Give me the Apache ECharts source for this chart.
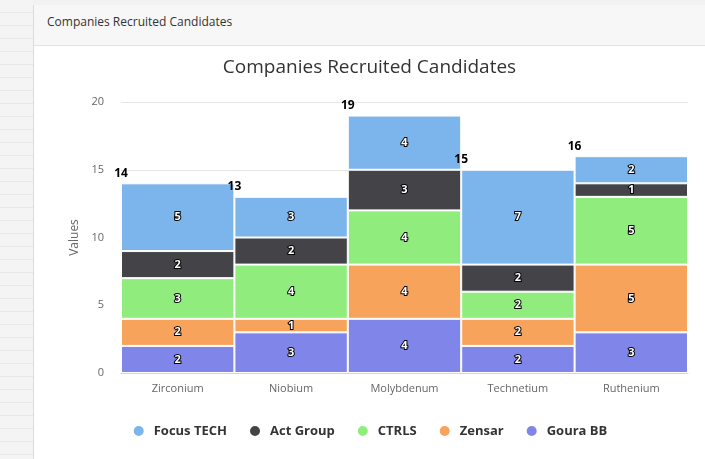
<!DOCTYPE html>
<html>
<head>
<meta charset="utf-8">
<script src="https://cdn.jsdelivr.net/npm/echarts@6/dist/echarts.min.js"></script>
<style>
  html, body { margin: 0; padding: 0; width: 705px; height: 459px; overflow: hidden; background: #f2f2f2; font-family: "Open Sans", sans-serif; }
  .side { position: absolute; left: 0; top: 0; width: 33px; height: 459px;
    background: repeating-linear-gradient(to bottom, #f4f4f4 0px, #f4f4f4 12px, #e8e8e8 12px, #e8e8e8 13px); }
  .panel { position: absolute; left: 33px; top: 5px; width: 672px; height: 454px; background: #fff; border-left: 1px solid #dcdcdc; }
  .panel-head { height: 40px; line-height: 34px; background: #f7f7f7; border-bottom: 1px solid #e2e2e2; padding-left: 13px; font-size: 12px; color: #333; }
  #chart { position: absolute; left: 34px; top: 46px; width: 671px; height: 413px; }
</style>
</head>
<body>
<div class="side"></div>
<div class="panel"><div class="panel-head">Companies Recruited Candidates</div></div>
<div id="chart"></div>
<script>
// categories and values
const categories = ['Zirconium', 'Niobium', 'Molybdenum', 'Technetium', 'Ruthenium']
const focusTech = [5, 3, 4, 7, 2]
const actGroup = [2, 2, 3, 2, 1]
const ctrls = [3, 4, 4, 2, 5]
const zensar = [2, 1, 4, 2, 5]
const gouraBB = [2, 3, 4, 2, 3]
const yTicks = [0, 5, 10, 15, 20]

// bottom to top
const stackSeries = [
  { name: 'Goura BB', data: gouraBB, color: '#8085e9' },
  { name: 'Zensar', data: zensar, color: '#f7a35c' },
  { name: 'CTRLS', data: ctrls, color: '#90ed7d' },
  { name: 'Act Group', data: actGroup, color: '#434348' },
  { name: 'Focus TECH', data: focusTech, color: '#7cb5ec' }
]
const totals = categories.map((c, i) => stackSeries.reduce((s, ser) => s + ser.data[i], 0))

const myChart = echarts.init(document.getElementById('chart'))

const option = {
  animation: false,
  textStyle: { fontFamily: 'Open Sans' },
  title: {
    text: 'Companies Recruited Candidates',
    left: 'center',
    top: 7,
    textStyle: { fontSize: 19, fontWeight: 'normal', color: '#333' }
  },
  legend: {
    data: ['Focus TECH', 'Act Group', 'CTRLS', 'Zensar', 'Goura BB'],
    top: 373,
    left: 'center',
    icon: 'circle',
    itemWidth: 12,
    itemHeight: 12,
    itemGap: 21,
    textStyle: { fontSize: 13, fontWeight: 'bold', color: '#333', padding: [0, 0, 0, 4] }
  },
  grid: { left: 87, right: 17, top: 56, bottom: 86 },
  xAxis: {
    type: 'category',
    data: categories,
    axisLine: { lineStyle: { color: '#ccd6eb' } },
    axisTick: { length: 10, lineStyle: { color: '#ccd6eb' } },
    axisLabel: { color: '#666', fontSize: 11, margin: 10 }
  },
  yAxis: {
    type: 'value',
    min: yTicks[0],
    max: yTicks[yTicks.length - 1],
    interval: 5,
    name: 'Values',
    nameLocation: 'middle',
    nameGap: 32,
    nameTextStyle: { color: '#666', fontSize: 12 },
    axisLine: { show: false },
    axisTick: { show: false },
    axisLabel: { color: '#666', fontSize: 11, margin: 17 },
    splitLine: { lineStyle: { color: '#e6e6e6' } }
  },
  series: stackSeries.map(s => ({
    name: s.name,
    type: 'bar',
    stack: 'total',
    data: s.data,
    barCategoryGap: '0%',
    itemStyle: { color: s.color, borderColor: '#fff', borderWidth: 1 },
    label: {
      show: true,
      position: 'inside',
      color: '#fff',
      fontSize: 11,
      fontWeight: 'bold',
      textBorderColor: '#000',
      textBorderWidth: 2
    }
  })).concat([{
    name: 'total',
    type: 'custom',
    data: totals.map((t, i) => [i, t]),
    encode: { x: 0, y: 1 },
    z: 10,
    renderItem: (params, api) => {
      const p = api.coord([api.value(0), api.value(1)])
      const w = api.size([1, 0])[0]
      return {
        type: 'text',
        x: p[0] - w / 2,
        y: p[1] - 10,
        style: {
          text: String(api.value(1)),
          fill: '#000',
          font: 'bold 12px "Open Sans"',
          align: 'center',
          verticalAlign: 'middle'
        }
      }
    }
  }])
}

myChart.setOption(option)
</script>
</body>
</html>
